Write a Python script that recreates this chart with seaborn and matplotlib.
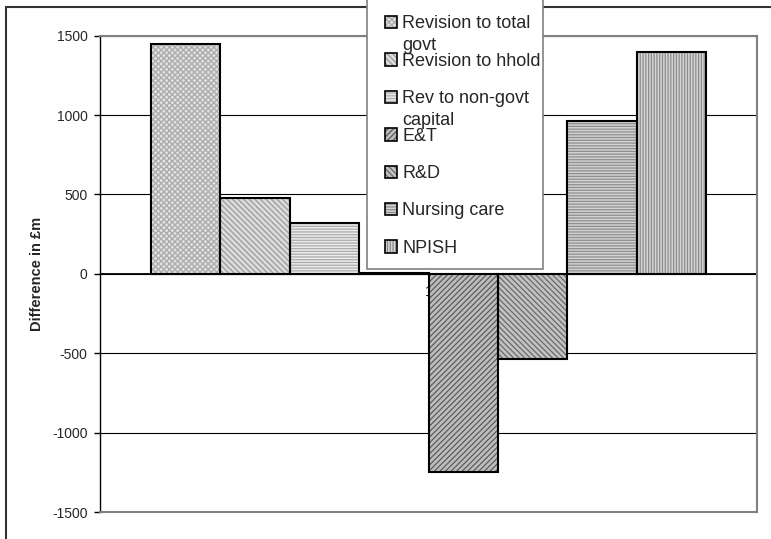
import matplotlib
matplotlib.use("Agg")
import numpy as np
import pandas as pd
import matplotlib.pyplot as plt
from matplotlib.patches import Patch, Rectangle
from matplotlib.legend_handler import HandlerBase
import seaborn as sns

# ---- data -------------------------------------------------------------
categories = ["1"]
series = ["Revision to total govt", "Revision to hhold", "Rev to non-govt capital",
          "Other revisions", "E&T", "R&D", "Nursing care", "NPISH"]
values = [1450, 480, 320, 5, -1250, -535, 960, 1400]
y_ticks = [-1500, -1000, -500, 0, 500, 1000, 1500]

# legend entries (series index, label lines)
legend_index = [0, 1, 2, 4, 5, 6, 7]
legend_labels = ["Revision to total\ngovt", "Revision to hhold", "Rev to non-govt\ncapital",
                 "E&T", "R&D", "Nursing care", "NPISH"]

# ---- styles -----------------------------------------------------------
fills = ["#e0e0e0", "#dcdcdc", "#ececec", "#d8d8d8", "#bdbdbd", "#c2c2c2", "#d2d2d2", "#d6d6d6"]
hatch_cols = ["#ababab", "#9a9a9a", "#ababab", "#9a9a9a", "#5c5c5c", "#6a6a6a", "#8e8e8e", "#8c8c8c"]
hatches = ["xxxxxx", "\\\\\\\\\\\\", "------", "//////", "//////", "\\\\\\\\\\\\", "------", "||||||"]

sns.set_style("white")
plt.rcParams["font.family"] = ["Liberation Sans", "DejaVu Sans"]
plt.rcParams["hatch.linewidth"] = 0.9

W, H = 771, 539
fig = plt.figure(figsize=(W / 100, H / 100), dpi=100)
ax = fig.add_axes([100 / W, 1 - 512 / H, 657 / W, (512 - 35.7) / H])

df = pd.DataFrame({
    "category": np.repeat(categories, len(series)),
    "series": series,
    "value": values,
})

sns.barplot(data=df, x="category", y="value", hue="series", hue_order=series,
            palette=fills, saturation=1, width=0.845, errorbar=None,
            linewidth=0, legend=False, ax=ax)

bars = [p for p in ax.patches if isinstance(p, Rectangle)][:len(series)]
for p, h, hc in zip(bars, hatches, hatch_cols):
    p.set_hatch(h)
    p.set_edgecolor(hc)
    p.set_linewidth(0)
    p.set_zorder(3)
    ax.add_patch(Rectangle(p.get_xy(), p.get_width(), p.get_height(), fill=False,
                           edgecolor="black", linewidth=1.5, zorder=3.2))

ax.set_xlim(-0.5, 0.5)
ax.set_ylim(-1500, 1500)
ax.set_yticks(y_ticks)
ax.set_yticklabels([str(v) for v in y_ticks], fontsize=10)
ax.set_xticks([])
ax.set_xlabel("")
ax.yaxis.grid(True, color="black", linewidth=0.8)
ax.set_axisbelow(True)
ax.axhline(0, color="black", linewidth=1.3, zorder=2.5)
ax.tick_params(axis="y", direction="out", length=4, width=1, color="black", pad=5, left=True)

for side in ["top", "right", "bottom"]:
    ax.spines[side].set_color("#808080")
    ax.spines[side].set_linewidth(1.5)
ax.spines["left"].set_color("black")
ax.spines["left"].set_linewidth(1)

ax.set_ylabel("Difference in £m", fontsize=10.5, fontweight="bold")
ax.yaxis.label.set_va("center")
ax.yaxis.set_label_coords((37 - 100) / 657, 0.5)

# category label sitting on the zero line, beneath the bars
ax.annotate(categories[0], xy=(0, 0), xytext=(0, -8), textcoords="offset points",
            ha="center", va="top", fontsize=10, zorder=1)

# outer chart border
fig.add_artist(Rectangle((6 / W, -0.05), 1.1, 1 - 7 / H + 0.05, transform=fig.transFigure,
                         fill=False, edgecolor="#333333", linewidth=1.5, zorder=0))


class SwatchHandler(HandlerBase):
    """Square hatched swatch with a black outline, right-aligned in the handle box."""

    def create_artists(self, legend, orig_handle, xdescent, ydescent,
                       width, height, fontsize, trans):
        side = height
        x = -xdescent + width - side
        y = -ydescent
        face = Rectangle((x, y), side, side, facecolor=orig_handle.get_facecolor(),
                         edgecolor=orig_handle.get_edgecolor(), hatch=orig_handle.get_hatch(),
                         linewidth=0, transform=trans)
        edge = Rectangle((x, y), side, side, fill=False, edgecolor="black",
                         linewidth=1.2, transform=trans)
        return [face, edge]


handles = [Patch(facecolor=fills[i], edgecolor=hatch_cols[i], hatch=hatches[i], linewidth=0)
           for i in legend_index]
first_lines = [lab.split("\n")[0] for lab in legend_labels]
leg = fig.legend(handles, first_lines, handler_map={Patch: SwatchHandler()},
                 loc="lower left", bbox_to_anchor=(367 / W, 1 - 269 / H),
                 bbox_transform=fig.transFigure, borderaxespad=0,
                 frameon=False, fontsize=13, title=" ", title_fontsize=13,
                 handlelength=1.0, handleheight=0.67, handletextpad=0.28,
                 labelspacing=1.13, borderpad=0.67)
leg.set_zorder(10)

fig.canvas.draw()
inv = fig.transFigure.inverted()

# legend box: tight on the right of the longest label, open past the top edge
lb = leg.get_window_extent()
right = max(t.get_window_extent().x1 for t in leg.get_texts()) + 2
(fx0, fy0), (fx1, fy1) = inv.transform([(lb.x0, lb.y0), (right, lb.y1 + 40)])
fig.add_artist(Rectangle((fx0, fy0), fx1 - fx0, fy1 - fy0, transform=fig.transFigure,
                         facecolor="white", edgecolor="#808080", linewidth=1.2, zorder=9))

for txt, lab in zip(leg.get_texts(), legend_labels):
    parts = lab.split("\n")
    if len(parts) > 1:
        bb = txt.get_window_extent()
        x0, y0 = inv.transform((bb.x0, bb.y0 + 4 - 22))
        fig.text(x0, y0, parts[1], fontsize=13, va="baseline", ha="left", zorder=11)

fig.savefig("out.png", dpi=100)
